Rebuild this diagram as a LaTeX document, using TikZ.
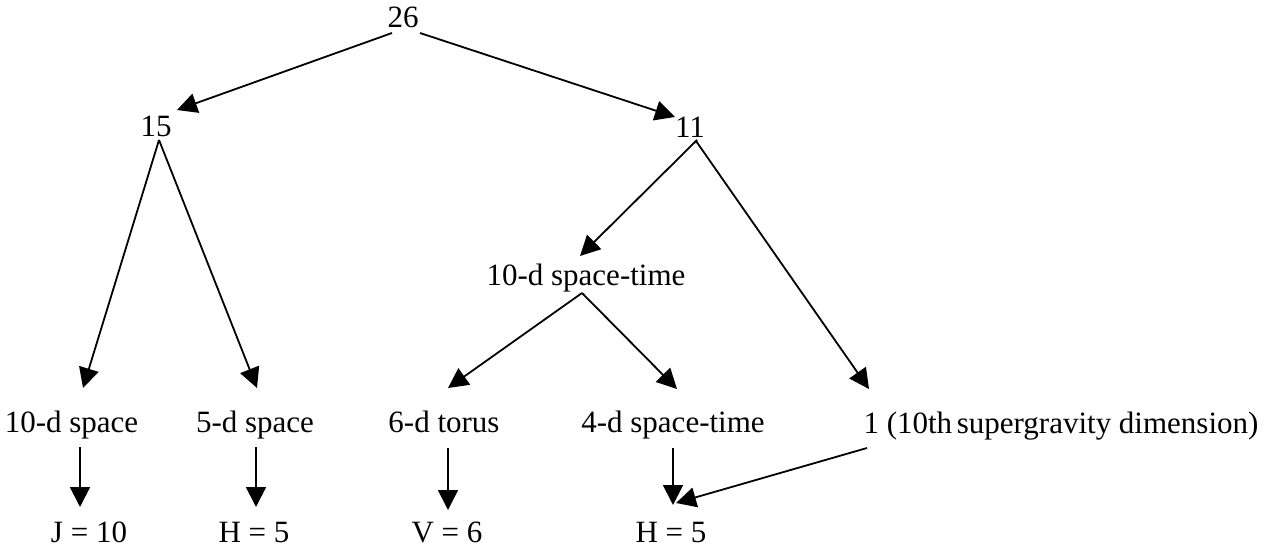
\documentclass[tikz,border=0pt]{standalone}
\usepackage{fontspec}
\setmainfont{Liberation Serif}
\usetikzlibrary{arrows.meta}
\begin{document}
\begin{tikzpicture}[x=1pt,y=-1pt,
  lbl/.style={inner sep=0pt,anchor=base,font=\fontsize{31}{37}\selectfont},
  arr/.style={line width=1.8pt,-{Triangle[length=20pt,width=20pt]}}]
\useasboundingbox (0,0) rectangle (1274,548);
% nodes
\node[lbl] (n26) at (403,28) {26};
\node[lbl] (n15) at (156,137) {15};
\node[lbl] (n11) at (690,138) {11};
\node[lbl] (st10) at (586,285) {10-d space-time};
\node[lbl] (s10) at (71.5,432) {10-d space};
\node[lbl] (s5) at (255,432) {5-d space};
\node[lbl] (t6) at (444,432) {6-d torus};
\node[lbl] (st4) at (673,432) {4-d space-time};
\node[lbl] (sg) at (1061,433) {1 (10th\hspace{-0.1em} supergravity dimension)};
\node[lbl] (J) at (89,542) {J = 10};
\node[lbl] (Ha) at (254,542) {H = 5};
\node[lbl] (V) at (447,542) {V = 6};
\node[lbl] (Hb) at (671,542) {H = 5};
% connectors
\draw[arr] ([shift={(-11,5)}]n26.base) -- ([shift={(21,-27)}]n15.base);
\draw[arr] ([shift={(17,5)}]n26.base) -- ([shift={(-15,-21)}]n11.base);
\draw[arr] ([shift={(3,3)}]n15.base) -- ([shift={(11.5,-44)}]s10.base);
\draw[arr] ([shift={(3,3)}]n15.base) -- ([shift={(2,-44)}]s5.base);
\draw[arr] ([shift={(7,2)}]n11.base) -- ([shift={(-6,-29)}]st10.base);
\draw[arr] ([shift={(6,3)}]n11.base) -- ([shift={(-192,-44)}]sg.base);
\draw[arr] ([shift={(-4,8)}]st10.base) -- ([shift={(4,-44)}]t6.base);
\draw[arr] ([shift={(-4,8)}]st10.base) -- ([shift={(4,-43)}]st4.base);
\draw[arr] ([shift={(8.5,15)}]s10.base) -- ([shift={(-9,-35)}]J.base);
\draw[arr] ([shift={(1,15)}]s5.base) -- ([shift={(2,-35)}]Ha.base);
\draw[arr] ([shift={(4,16)}]t6.base) -- ([shift={(1,-32)}]V.base);
\draw[arr] ([shift={(0,16)}]st4.base) -- ([shift={(2,-37)}]Hb.base);
\draw[arr] ([shift={(-194,15)}]sg.base) -- ([shift={(5,-39)}]Hb.base);
\end{tikzpicture}
\end{document}
